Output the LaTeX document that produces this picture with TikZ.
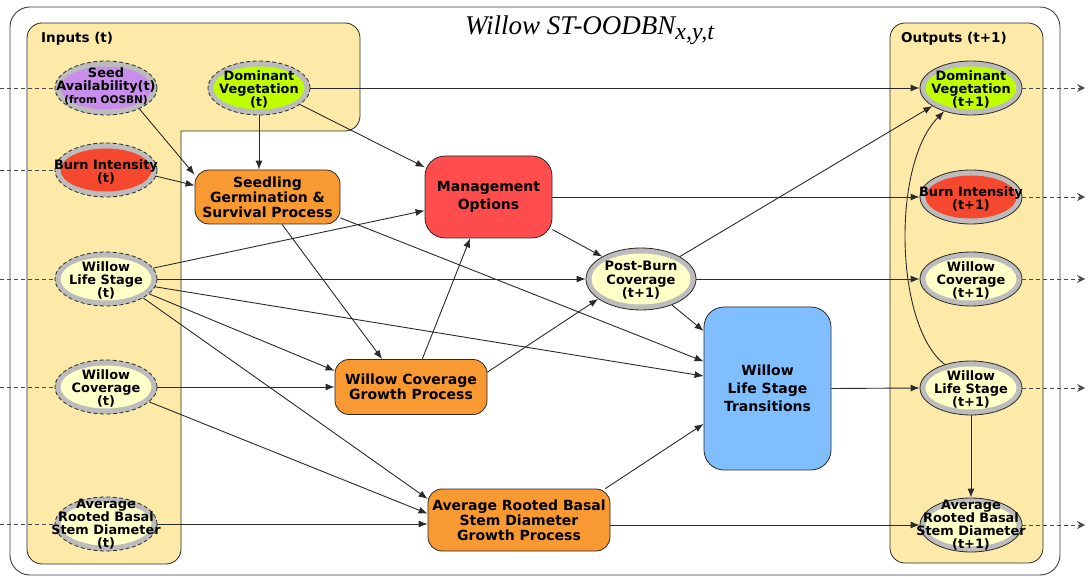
\documentclass[tikz,border=0pt]{standalone}
\usepackage{fontspec}
\setmainfont{DejaVu Sans}
\newfontfamily\titlefont{Liberation Serif}
\usetikzlibrary{arrows.meta,calc,shapes.geometric}

\definecolor{panelc}{HTML}{FDEAA8}
\definecolor{linec}{HTML}{2A2A2A}
\definecolor{ringc}{HTML}{BCBCBC}
\definecolor{palec}{HTML}{FFFFC8}
\definecolor{purplec}{HTML}{C98EEB}
\definecolor{limec}{HTML}{BFFF00}
\definecolor{burnc}{HTML}{F5482E}
\definecolor{orangec}{HTML}{F89A31}
\definecolor{redc}{HTML}{FF4C4C}
\definecolor{bluec}{HTML}{80BFFF}

\begin{document}
\begin{tikzpicture}[x=1pt,y=-1pt,
  every node/.style={inner sep=0pt},
  % variable node: dark outline, grey ring, coloured core
  varnode/.style n args={3}{ellipse, draw=linec, line width=0.8pt, fill=ringc,
    minimum width=#2, minimum height=#3,
    path picture={\fill[#1] (path picture bounding box.center)
      ellipse [x radius=#2/2-5.5pt, y radius=#3/2-5.5pt];}},
  invar/.style={dash pattern=on 4pt off 2.5pt},
  vtext/.style={font=\fontsize{12.9}{13}\selectfont\bfseries, align=center, yshift=-1.5pt},
  procbox/.style={rectangle, rounded corners=14pt, draw=linec, line width=0.8pt,
    font=\fontsize{14}{15}\selectfont\bfseries, align=center},
  widebox/.style={procbox, rounded corners=20pt, font=\fontsize{14}{18}\selectfont\bfseries},
  panel/.style={fill=panelc, draw=linec, line width=0.8pt, rounded corners=15pt},
  link/.style={draw=linec, line width=0.9pt, -{Latex[length=9pt,width=7pt]}},
  feed/.style={draw=linec!85, line width=0.8pt, dash pattern=on 4pt off 3pt},
  feedout/.style={feed, -{Stealth[length=8pt,width=8pt,inset=3pt]}},
  lbl/.style={font=\fontsize{13.5}{15}\selectfont\bfseries, anchor=west}
]
\useasboundingbox (0,0) rectangle (1088,577);

% outer frame
\draw[draw=linec!90, line width=0.9pt, rounded corners=20pt] (10,7) rectangle (1060,575);

% input and output panels
\path[panel] (181,131) -- (181,564) -- (27,564) -- (27,23) -- (360,23) -- (360,131) -- (181,131);
\path[panel] (890,23) rectangle (1043,563);
\node[lbl] (inlbl) at (41,39) {Inputs (t)};
\node[lbl] (outlbl) at (901,39) {Outputs (t+1)};

% title
\node[anchor=base west, font=\titlefont\itshape\fontsize{27}{30}\selectfont] (title) at (465,35)
  {Willow ST-OODBN\raisebox{-5pt}{\fontsize{24}{26}\selectfont x,y,t}};

% input variables (t)
\node[varnode={purplec}{102pt}{54pt}, invar] (sa0) at (106,88) {};
\node[varnode={limec}{102pt}{54pt}, invar] (dv0) at (259,88) {};
\node[varnode={burnc}{102pt}{54pt}, invar] (bi0) at (106,170) {};
\node[varnode={palec}{102pt}{54pt}, invar] (wl0) at (106,279) {};
\node[varnode={palec}{102pt}{54pt}, invar] (wc0) at (106,387) {};
\node[varnode={palec}{102pt}{54pt}, invar] (ar0) at (106,524) {};
\node[vtext, yshift=1.5pt] (sa0t) at (106,86) {Seed\\Availability(t)\\{\fontsize{10.5}{11}\selectfont (from OOSBN)}};
\node[vtext] (dv0t) at (dv0) {Dominant\\Vegetation\\(t)};
\node[vtext] (bi0t) at (bi0) {Burn Intensity\\(t)};
\node[vtext] (wl0t) at (wl0) {Willow\\Life Stage\\(t)};
\node[vtext] (wc0t) at (wc0) {Willow\\Coverage\\(t)};
\node[vtext, yshift=1pt] (ar0t) at (ar0) {Average\\Rooted Basal\\Stem Diameter\\(t)};

% output variables (t+1)
\node[varnode={limec}{102pt}{54pt}] (dv1) at (971,88) {};
\node[varnode={burnc}{102pt}{54pt}] (bi1) at (971,197) {};
\node[varnode={palec}{102pt}{54pt}] (wc1) at (971,279) {};
\node[varnode={palec}{102pt}{54pt}] (wl1) at (971,388) {};
\node[varnode={palec}{102pt}{54pt}] (ar1) at (971,525) {};
\node[vtext] (dv1t) at (dv1) {Dominant\\Vegetation\\(t+1)};
\node[vtext] (bi1t) at (bi1) {Burn Intensity\\(t+1)};
\node[vtext] (wc1t) at (wc1) {Willow\\Coverage\\(t+1)};
\node[vtext] (wl1t) at (wl1) {Willow\\Life Stage\\(t+1)};
\node[vtext, yshift=1pt] (ar1t) at (ar1) {Average\\Rooted Basal\\Stem Diameter\\(t+1)};

% intermediate variable
\node[varnode={palec}{110pt}{62pt}] (pb) at (641,279) {};
\node[vtext, font=\fontsize{13}{13.5}\selectfont\bfseries] (pbt) at (pb) {Post-Burn\\Coverage\\(t+1)};

% process nodes
\node[procbox, fill=orangec, minimum width=145pt, minimum height=54pt] (sg) at (267.5,197) {Seedling\\Germination \&\\Survival Process};
\node[widebox, fill=redc, minimum width=127pt, minimum height=82pt] (mo) at (488.5,197) {Management\\Options};
\node[procbox, fill=orangec, minimum width=152pt, minimum height=55pt] (wcg) at (411,387) {Willow Coverage\\Growth Process};
\node[widebox, fill=bluec, minimum width=127pt, minimum height=163pt] (lst) at (767.5,388.5) {Willow\\Life Stage\\Transitions};
\node[procbox, fill=orangec, minimum width=182pt, minimum height=62pt] (arg) at (519,520) {Average Rooted Basal\\Stem Diameter\\Growth Process};

% links from the previous slice
\coordinate (in1) at (0,88);
\coordinate (in2) at (0,170);
\coordinate (in3) at (0,279);
\coordinate (in4) at (0,387);
\coordinate (in5) at (0,524);
\draw[feed] (in1) -- (sa0.west);
\draw[feed] (in2) -- (bi0.west);
\draw[feed] (in3) -- (wl0.west);
\draw[feed] (in4) -- (wc0.west);
\draw[feed] (in5) -- (ar0.west);

% links to the next slice
\coordinate (out1) at (1085,88);
\coordinate (out2) at (1085,197);
\coordinate (out3) at (1085,279);
\coordinate (out4) at (1085,388);
\coordinate (out5) at (1085,525);
\draw[feedout] (dv1.east) -- (out1);
\draw[feedout] (bi1.east) -- (out2);
\draw[feedout] (wc1.east) -- (out3);
\draw[feedout] (wl1.east) -- (out4);
\draw[feedout] (ar1.east) -- (out5);

% dependencies
\draw[link] (sa0.-32) -- (sg.163);
\draw[link] (dv0.south) -- (dv0.south |- sg.north);
\draw[link] (dv0.-22) -- (mo.155);
\draw[link] (dv0.east) -- (dv1.west);
\draw[link] (bi0.-7) -- (sg.171);
\draw[link] (wl0.13) -- (mo.192);
\draw[link] (wl0.east) -- (pb.west);
\draw[link] (wl0.-9) -- (lst.169);
\draw[link] (wl0.-19) -- (wcg.168);
\draw[link] (wl0.-27) -- (arg.167);
\draw[link] (wc0.east) -- (wcg.west);
\draw[link] (wc0.-19) -- (arg.176);
\draw[link] (ar0.east) -- (arg.west |- ar0.east);
\draw[link] (sg.-62) -- (wcg.136);
\draw[link] (sg.-16) -- (lst.157);
\draw[link] (wcg.68) -- (mo.-114);
\draw[link] (wcg.11) -- (pb.205);
\draw[link] (mo.east) -- (bi1.west);
\draw[link] (mo.-27) -- (pb.150);
\draw[link] (pb.30) -- (dv1.205);
\draw[link] (pb.east) -- (wc1.west);
\draw[link] (pb.-40) -- (lst.138);
\draw[link] (lst.east) -- (wl1.west);
\draw[link] (arg.20) -- (lst.209);
\draw[link] (arg.east |- ar1.west) -- (ar1.west);
\draw[link] (wl1.138) .. controls ($(wl1.138)+(-50,-38)$) and ($(dv1.221)+(-53,53)$) .. (dv1.221);
\draw[link] (wl1.south) -- (ar1.north);
\end{tikzpicture}
\end{document}
